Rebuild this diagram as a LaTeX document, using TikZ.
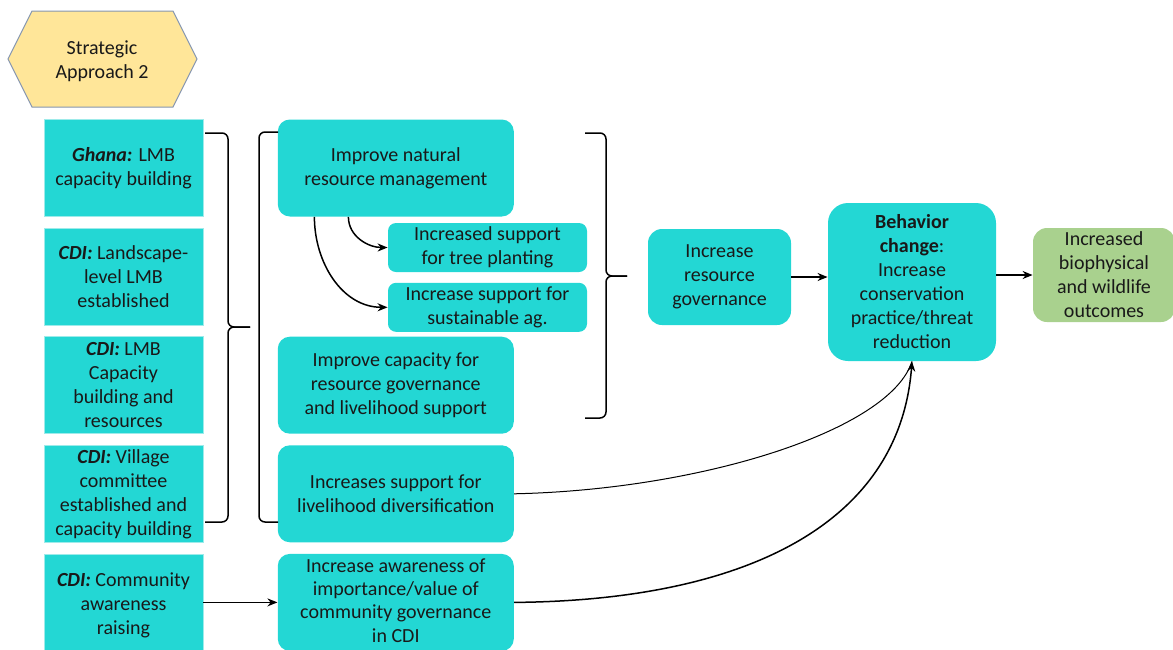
\documentclass[tikz,border=0pt]{standalone}
\usepackage{fontspec}
\setmainfont{Carlito}
\usepackage{xcolor}
\usepackage{tikz}
\usetikzlibrary{positioning,arrows.meta,calc}

\definecolor{boxcyan}{HTML}{23D7D4}
\definecolor{edgecyan}{HTML}{9DEBEA}
\definecolor{hexfill}{HTML}{FFE699}
\definecolor{hexedge}{HTML}{8596B0}
\definecolor{outgreen}{HTML}{A9D18E}
\newcommand{\lead}[1]{\textbf{\textit{#1}}}

\begin{document}
\begin{tikzpicture}[x=0.5pt, y=-0.5pt, font=\fontsize{10}{12}\selectfont, every node/.style={align=center, text=black!90},
  lbox/.style={fill=boxcyan, draw=edgecyan, line width=0.4pt, minimum width=79.5pt, minimum height=48.5pt, inner sep=1pt},
  rbox/.style={fill=boxcyan, rounded corners=6pt, minimum width=118pt, minimum height=48.5pt, inner sep=1pt},
  sbox/.style={fill=boxcyan, rounded corners=4pt, minimum width=99.5pt, minimum height=24.5pt, inner sep=0.5pt},
  brace/.style={line width=0.75pt, rounded corners=3pt},
  arr/.style={-{Stealth[length=5pt, width=4pt]}, line width=0.75pt}]
\useasboundingbox (0,0) rectangle (1173,649);
% strategic approach tag
\draw[fill=hexfill, draw=hexedge, line width=0.5pt] (8,59) -- (32,11) -- (173,11) -- (197,59) -- (173,107) -- (32,107) -- cycle;
\node (approach) at (102,61) {Strategic\\Approach 2};
% activities
\node[lbox] (ghana) at (123.5,168) {\lead{Ghana:} LMB\\capacity building};
\node[lbox, below=5.4pt of ghana] (landscape) {\lead{CDI:} Landscape-\\level LMB\\established};
\node[lbox, below=5.4pt of landscape] (lmbcap) {\lead{CDI:} LMB\\Capacity\\building and\\resources};
\node[lbox, below=5.4pt of lmbcap] (village) {\lead{CDI:} Village\\committee\\established and\\capacity building};
\node[lbox, below=5.4pt of village, text height=34pt] (community) {\lead{CDI:} Community\\awareness\\raising};
% intermediate results
\node[rbox, right=37pt of ghana] (nrm) {Improve natural\\resource management};
\node[rbox, right=37pt of lmbcap] (capgov) {Improve capacity for\\resource governance\\and livelihood support};
\node[rbox, right=37pt of village] (livdiv) {Increases support for\\livelihood diversification};
\node[rbox, right=37pt of community, font=\fontsize{10}{11.7}\selectfont, text depth=2pt] (aware) {Increase awareness of\\importance/value of\\community governance\\in CDI};
\node[sbox] (tree) at (487.5,247.5) {Increased support\\for tree planting};
\node[sbox, below=5pt of tree] (sustag) {Increase support for\\sustainable ag.};
\node[rbox, rounded corners=7pt, minimum width=71.5pt, minimum height=48pt] (gov) at (719.5,277) {Increase\\resource\\governance};
\node[rbox, rounded corners=10pt, minimum width=84pt, minimum height=79pt] (behav) at (912,282) {\textbf{Behavior}\\\textbf{change}:\\Increase\\conservation\\practice/threat\\reduction};
\node[rbox, fill=outgreen, rounded corners=7pt, minimum width=71pt, minimum height=47pt] (outcome) at (1104,275) {Increased\\biophysical\\and wildlife\\outcomes};
% braces
\coordinate (tipA) at (250,327);
\coordinate (tipB) at (627,276);
\draw[brace] (205,133) -- (228,133) -- (228,327) -- (tipA);
\draw[brace] (tipA) -- (228,327) -- (228,522) -- (205,522);
\draw[brace] (278,132) -- (259,132) -- (259,522) -- (278,522);
\draw[brace] (585,133) -- (606,133) -- (606,276) -- (tipB);
\draw[brace] (tipB) -- (606,276) -- (606,418) -- (585,418);
% links
\draw[arr] ([xshift=35.5pt]nrm.south west) to[out=-90, in=180] (tree.west);
\draw[arr] ([xshift=18.5pt]nrm.south west) to[out=-90, in=180] (sustag.west);
\draw[arr] (gov.east) -- (gov.east -| behav.west);
\draw[arr] (behav.east |- outcome.west) -- (outcome.west);
\draw[arr] (community.east) -- (community.east -| aware.west);
\draw[line width=0.5pt] (livdiv.east) .. controls +(187,-4) and +(-22,69) .. (behav.south);
\draw[arr] (aware.east |- community.east) .. controls +(237,-2) and +(-12,159) .. (behav.south);
\end{tikzpicture}
\end{document}
